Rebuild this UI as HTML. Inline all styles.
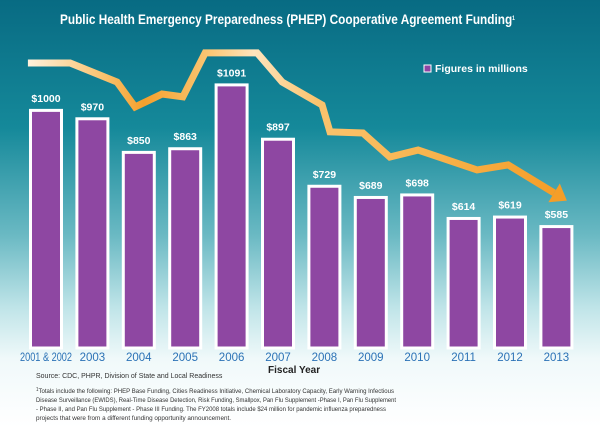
<!DOCTYPE html>
<html><head><meta charset="utf-8"><style>
html,body{margin:0;padding:0;width:600px;height:427px;overflow:hidden;background:#fff}
svg{display:block;font-family:"Liberation Sans",sans-serif}
</style></head><body>
<svg id="chart" width="600" height="427" viewBox="0 0 600 427">
<defs>
<linearGradient id="bg" x1="0" y1="0" x2="0" y2="1">
<stop offset="0" stop-color="#086b83"/><stop offset="0.3" stop-color="#15899a"/>
<stop offset="0.55" stop-color="#6ab9c3"/><stop offset="0.72" stop-color="#bfe4e8"/>
<stop offset="0.84" stop-color="#f0f9fa"/><stop offset="1" stop-color="#ffffff"/>
</linearGradient>
<linearGradient id="ln" x1="0" y1="0" x2="1" y2="0" gradientUnits="objectBoundingBox">
<stop offset="0" stop-color="#fff1dc"/><stop offset="0.15" stop-color="#f9c06a"/>
<stop offset="0.22" stop-color="#f4a02c"/><stop offset="0.35" stop-color="#fbc878"/>
<stop offset="0.43" stop-color="#fee4bd"/><stop offset="0.55" stop-color="#f9c36e"/>
<stop offset="0.75" stop-color="#f8b550"/><stop offset="1" stop-color="#f59e28"/>
</linearGradient>
</defs>
<rect x="0" y="0" width="600" height="427" fill="url(#bg)"/>
<text x="60" y="24" textLength="455" lengthAdjust="spacingAndGlyphs" font-size="14" font-weight="bold" fill="#fff">Public Health Emergency Preparedness (PHEP) Cooperative Agreement Funding<tspan font-size="6" dy="-4">1</tspan></text>
<g id="trend"></g>
<g id="bars"></g>
<rect x="424" y="65" width="7" height="7" fill="#8e44a3" stroke="#fff" stroke-width="1"/>
<text x="435" y="72" font-size="10.5" font-weight="bold" fill="#fff">Figures in millions</text>
<text x="268" y="373" font-size="10" font-weight="bold" fill="#222">Fiscal Year</text>
<text x="36" y="378" font-size="7" fill="#333">Source: CDC, PHPR, Division of State and Local Readiness</text>
<g font-size="6.8" fill="#333">
<text x="36" y="393" textLength="358" lengthAdjust="spacingAndGlyphs"><tspan font-size="5" dy="-2">1</tspan><tspan dy="2">Totals include the following:  PHEP Base Funding, Cities Readiness Initiative, Chemical Laboratory Capacity, Early Warning Infectious</tspan></text>
<text x="36" y="402" textLength="360" lengthAdjust="spacingAndGlyphs">Disease Surveillance (EWIDS), Real-Time Disease Detection, Risk Funding, Smallpox, Pan Flu Supplement -Phase I, Pan Flu Supplement</text>
<text x="36" y="411" textLength="350" lengthAdjust="spacingAndGlyphs">- Phase II, and Pan Flu Supplement - Phase III Funding. The FY2008 totals include $24 million for pandemic influenza preparedness</text>
<text x="36" y="420" textLength="195" lengthAdjust="spacingAndGlyphs">projects that were from a different funding opportunity announcement.</text>
</g>
</svg>
<script>
const categories=["2001 & 2002","2003","2004","2005","2006","2007","2008","2009","2010","2011","2012","2013"];
const values=[1000,970,850,863,1091,897,729,689,698,614,619,585];
const labels=["$1000","$970","$850","$863","$1091","$897","$729","$689","$698","$614","$619","$585"];
const trendIdx=[-0.39,0.52,1.53,1.92,2.5,2.95,3.43,4.55,5.09,5.95,6.12,6.83,7.41,8.02,9.29,9.96,10.95];
const trendVal=[1164,1164,1096,1007,1053,1043,1200,1200,1096,1014,918,914,828,853,782,800,700];
const NS="http://www.w3.org/2000/svg";
const BASE=348;
const xPos=i=>46+i*46.4;
const yPos=v=>BASE-(v-146)*0.28;
const bars=document.getElementById('bars');
categories.forEach((c,i)=>{
  const cx=xPos(i), top=yPos(values[i]);
  const r=document.createElementNS(NS,'rect');
  r.setAttribute('x',cx-15.5);r.setAttribute('y',top+1.5);
  r.setAttribute('width',31);r.setAttribute('height',BASE-top-1.5);
  r.setAttribute('fill','#8e47a2');r.setAttribute('stroke','#fff');r.setAttribute('stroke-width','3');
  
  
  bars.appendChild(r);
  const t=document.createElementNS(NS,'text');
  t.setAttribute('x',cx);t.setAttribute('y',top-7);t.setAttribute('text-anchor','middle');
  t.setAttribute('font-size','10.5');t.setAttribute('font-weight','bold');t.setAttribute('fill','#fff');
  t.textContent=labels[i];
  
  
  bars.appendChild(t);
  const y=document.createElementNS(NS,'text');
  y.setAttribute('x',cx);y.setAttribute('y',361);y.setAttribute('text-anchor','middle');
  y.setAttribute('font-size','11.5');y.setAttribute('fill','#2b72b6');
  if(c.length>6){y.setAttribute('textLength','52');y.setAttribute('lengthAdjust','spacingAndGlyphs');}
  y.textContent=c;
  
  
  bars.appendChild(y);
});
const tr=document.getElementById('trend');
const pts=trendIdx.map((d,i)=>[xPos(d),yPos(trendVal[i])]);
const p=document.createElementNS(NS,'polyline');
p.setAttribute('points',pts.map(q=>q.join(',')).join(' '));
p.setAttribute('fill','none');p.setAttribute('stroke','url(#ln)');p.setAttribute('stroke-width','7');
p.setAttribute('stroke-linejoin','miter');


tr.appendChild(p);
const a=pts[pts.length-2], b=pts[pts.length-1];
const ang=Math.atan2(b[1]-a[1],b[0]-a[0])*180/Math.PI;
const h=document.createElementNS(NS,'polygon');
h.setAttribute('points','0,-11 15,0 0,11');
h.setAttribute('fill','#f59e28');
h.setAttribute('transform','translate('+b[0]+','+b[1]+') rotate('+ang+')');


tr.appendChild(h);
</script>
</body></html>
